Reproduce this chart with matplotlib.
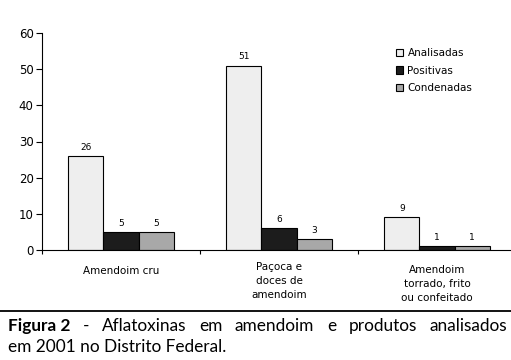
import numpy as np
import matplotlib.pyplot as plt
from matplotlib.patches import Patch
from matplotlib.lines import Line2D
from matplotlib.transforms import blended_transform_factory

# --- Data ---
categories = ['Amendoim cru', 'Paçoca e\ndoces de\namendoim',
              'Amendoim\ntorrado, frito\nou confeitado']
series = ['Analisadas', 'Positivas', 'Condenadas']
analisadas = [26, 51, 9]
positivas = [5, 6, 1]
condenadas = [5, 3, 1]
colors = ['#eeeeee', '#1c1c1c', '#a8a8a8']

caption_1 = ['Figura 2', '-', 'Aflatoxinas', 'em', 'amendoim', 'e',
             'produtos', 'analisados']
caption_2 = 'em 2001 no Distrito Federal.'

fig = plt.figure(figsize=(5.11, 3.6), dpi=100)
ax = fig.add_axes([42 / 511, 110 / 360, 474 / 511, 217 / 360])

x = np.arange(len(categories))
w = 0.222
for i, (vals, col) in enumerate(zip([analisadas, positivas, condenadas], colors)):
    pos = x + (i - 1) * w
    ax.bar(pos, vals, width=w, color=col, edgecolor='black', linewidth=0.8)
    for p, v in zip(pos, vals):
        ax.text(p, v + 1.2, str(v), ha='center', va='bottom', fontsize=6.5)

ax.set_xlim(-0.5, 2.5)
ax.set_ylim(0, 60)
ax.set_yticks(range(0, 61, 10))
ax.tick_params(axis='y', labelsize=8.5, length=4, width=0.8, pad=2)
ax.set_xticks([-0.5, 0.5, 1.5])
ax.set_xticklabels([])
ax.tick_params(axis='x', length=3, width=0.8)
for s in ['top', 'right']:
    ax.spines[s].set_visible(False)
for s in ['left', 'bottom']:
    ax.spines[s].set_linewidth(0.8)

trans = blended_transform_factory(ax.transData, ax.transAxes)
label_y = [-0.075, -0.055, -0.068]
for xi, lab, ly in zip(x, categories, label_y):
    ax.text(xi, ly, lab, transform=trans, ha='center', va='top',
            fontsize=7.5, linespacing=1.5)

handles = [Patch(facecolor=c, edgecolor='black', linewidth=0.8) for c in colors]
ax.legend(handles, series, loc='upper left', bbox_to_anchor=(0.727, 0.975),
          frameon=False, fontsize=7.5, handlelength=0.7, handleheight=0.7,
          handletextpad=0.4, labelspacing=0.75)

# rule and caption
fig.add_artist(Line2D([0, 1], [1 - 311 / 360] * 2, color='black', linewidth=1.3))

fs = 12.4
fam = 'Lato'
renderer = fig.canvas.get_renderer()
words = []
for k, word in enumerate(caption_1):
    t = fig.text(0, 1 - 326 / 360, word, fontsize=fs, va='center', ha='left',
                 family=fam, weight='bold' if k == 0 else 'normal')
    words.append(t)
widths = [t.get_window_extent(renderer).width for t in words]
left, right = 8, 507
gap = (right - left - sum(widths)) / (len(words) - 1)
xpos = left
for t, wd in zip(words, widths):
    t.set_x(xpos / 511)
    xpos += wd + gap

fig.text(8 / 511, 1 - 347 / 360, caption_2, fontsize=fs, va='center',
         ha='left', family=fam)

fig.savefig('out.png', dpi=100)
